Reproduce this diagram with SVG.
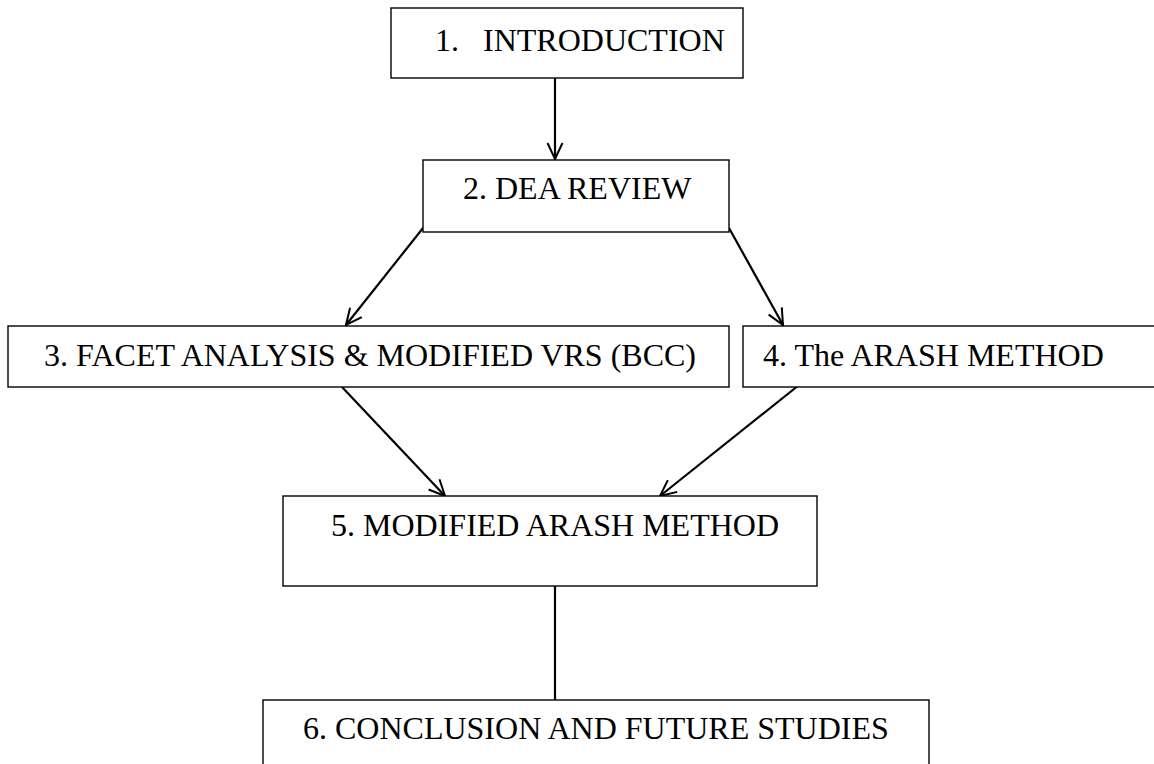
<svg xmlns="http://www.w3.org/2000/svg" width="1154" height="764" viewBox="0 0 1154 764">
<style>
  .box { fill: #ffffff; stroke: #000000; stroke-width: 1.4; }
  .lbl { font-family: "Liberation Serif", "Times New Roman", serif; font-size: 32px; fill: #000000; }
  .conn { stroke: #000000; stroke-width: 2.2; fill: none; }
</style>
<defs>
  <marker id="arr" markerUnits="userSpaceOnUse" viewBox="0 0 18 18" markerWidth="18" markerHeight="18" refX="17" refY="9" orient="auto">
    <path d="M1,1.5 L17,9 L1,16.5" fill="none" stroke="#000000" stroke-width="2"/>
  </marker>
</defs>
<rect width="1154" height="764" fill="#ffffff"/>
<g id="connectors">
  <line class="conn" x1="555" y1="78" x2="555" y2="159" marker-end="url(#arr)"/>
  <line class="conn" x1="423" y1="228" x2="346" y2="325" marker-end="url(#arr)"/>
  <line class="conn" x1="729" y1="228" x2="783" y2="325" marker-end="url(#arr)"/>
  <line class="conn" x1="342" y1="387" x2="445" y2="496" marker-end="url(#arr)"/>
  <line class="conn" x1="804" y1="381" x2="660" y2="496" marker-end="url(#arr)"/>
  <line class="conn" x1="555" y1="586" x2="555" y2="700"/>
</g>
<g id="node1">
  <rect class="box" x="391" y="8" width="352" height="70"/>
  <text class="lbl" x="435" y="51" xml:space="preserve">1.   INTRODUCTION</text>
</g>
<g id="node2">
  <rect class="box" x="423" y="160" width="306" height="72"/>
  <text class="lbl" x="463" y="199">2. DEA REVIEW</text>
</g>
<g id="node3">
  <rect class="box" x="8" y="326" width="721" height="61"/>
  <text class="lbl" x="44" y="366">3. FACET ANALYSIS &amp; MODIFIED VRS (BCC)</text>
</g>
<g id="node4">
  <rect class="box" x="743" y="326" width="420" height="61"/>
  <text class="lbl" x="763" y="366">4. The ARASH METHOD</text>
</g>
<g id="node5">
  <rect class="box" x="283" y="496" width="534" height="90"/>
  <text class="lbl" x="331" y="536">5. MODIFIED ARASH METHOD</text>
</g>
<g id="node6">
  <rect class="box" x="263" y="700" width="666" height="80"/>
  <text class="lbl" x="303" y="739">6. CONCLUSION AND FUTURE STUDIES</text>
</g>
</svg>
